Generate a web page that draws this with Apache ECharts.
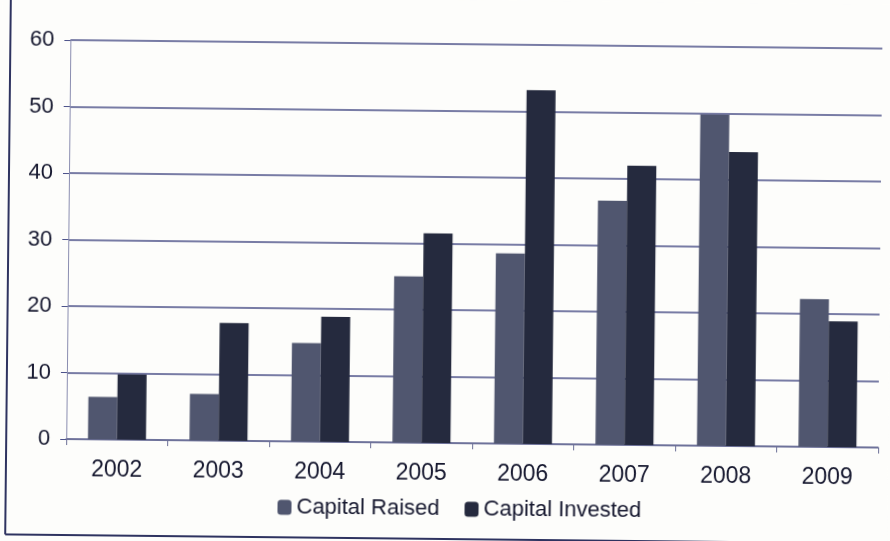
<!DOCTYPE html>
<html>
<head>
<meta charset="utf-8">
<script src="https://cdn.jsdelivr.net/npm/echarts@6/dist/echarts.min.js"></script>
<style>
  html, body { margin: 0; padding: 0; background: #fdfdfb; overflow: hidden; }
  #chart { width: 890px; height: 541px; transform: rotate(0.6deg); transform-origin: 445px 270px; }
</style>
</head>
<body>
<div id="chart"></div>
<script>
// Yearly capital raised vs. capital invested
const years = ['2002', '2003', '2004', '2005', '2006', '2007', '2008', '2009'];
const capitalRaised = [6.4, 7.0, 14.8, 25.0, 28.6, 36.7, 49.8, 22.2];
const capitalInvested = [9.8, 17.7, 18.8, 31.5, 53.2, 42.0, 44.2, 18.9];
const yTicks = { min: 0, max: 60, interval: 10 };

const ink = '#15172e';
const gridBlue = '#4b5189';
const chart = echarts.init(document.getElementById('chart'));
chart.setOption({
  backgroundColor: '#fdfdfb',
  textStyle: { fontFamily: 'Liberation Sans, Arial, sans-serif' },
  grid: { left: 68, right: 10, top: 44, bottom: 98 },
  legend: {
    top: 493,
    left: 275,
    itemWidth: 14,
    itemHeight: 15,
    itemGap: 25,
    textStyle: { fontSize: 22, color: ink },
    data: ['Capital Raised', 'Capital Invested']
  },
  xAxis: {
    type: 'category',
    data: years,
    axisLine: { lineStyle: { color: '#6b6f96', width: 1.5 } },
    axisTick: { show: true, length: 6, lineStyle: { color: '#6b6f96' } },
    axisLabel: { fontSize: 23, color: ink, margin: 19 }
  },
  yAxis: {
    type: 'value',
    min: yTicks.min,
    max: yTicks.max,
    interval: yTicks.interval,
    axisLine: { show: true, lineStyle: { color: '#8a8db0', width: 1 } },
    axisTick: { show: true, length: 6, lineStyle: { color: gridBlue } },
    axisLabel: { fontSize: 22, color: ink, margin: 16 },
    splitLine: { lineStyle: { color: gridBlue, width: 1.6 } }
  },
  series: [
    {
      name: 'Capital Raised',
      type: 'bar',
      data: capitalRaised,
      barWidth: 29,
      barGap: '0%',
      itemStyle: { color: '#50566f' }
    },
    {
      name: 'Capital Invested',
      type: 'bar',
      data: capitalInvested,
      barWidth: 29,
      itemStyle: { color: '#252a3e' }
    }
  ],
  graphic: [
    { type: 'line', shape: { x1: 8, y1: -10, x2: 8, y2: 539 }, style: { stroke: '#2e3360', lineWidth: 2 } },
    { type: 'line', shape: { x1: 8, y1: 539, x2: 900, y2: 539 }, style: { stroke: '#2e3360', lineWidth: 2 } }
  ]
});
</script>
</body>
</html>
